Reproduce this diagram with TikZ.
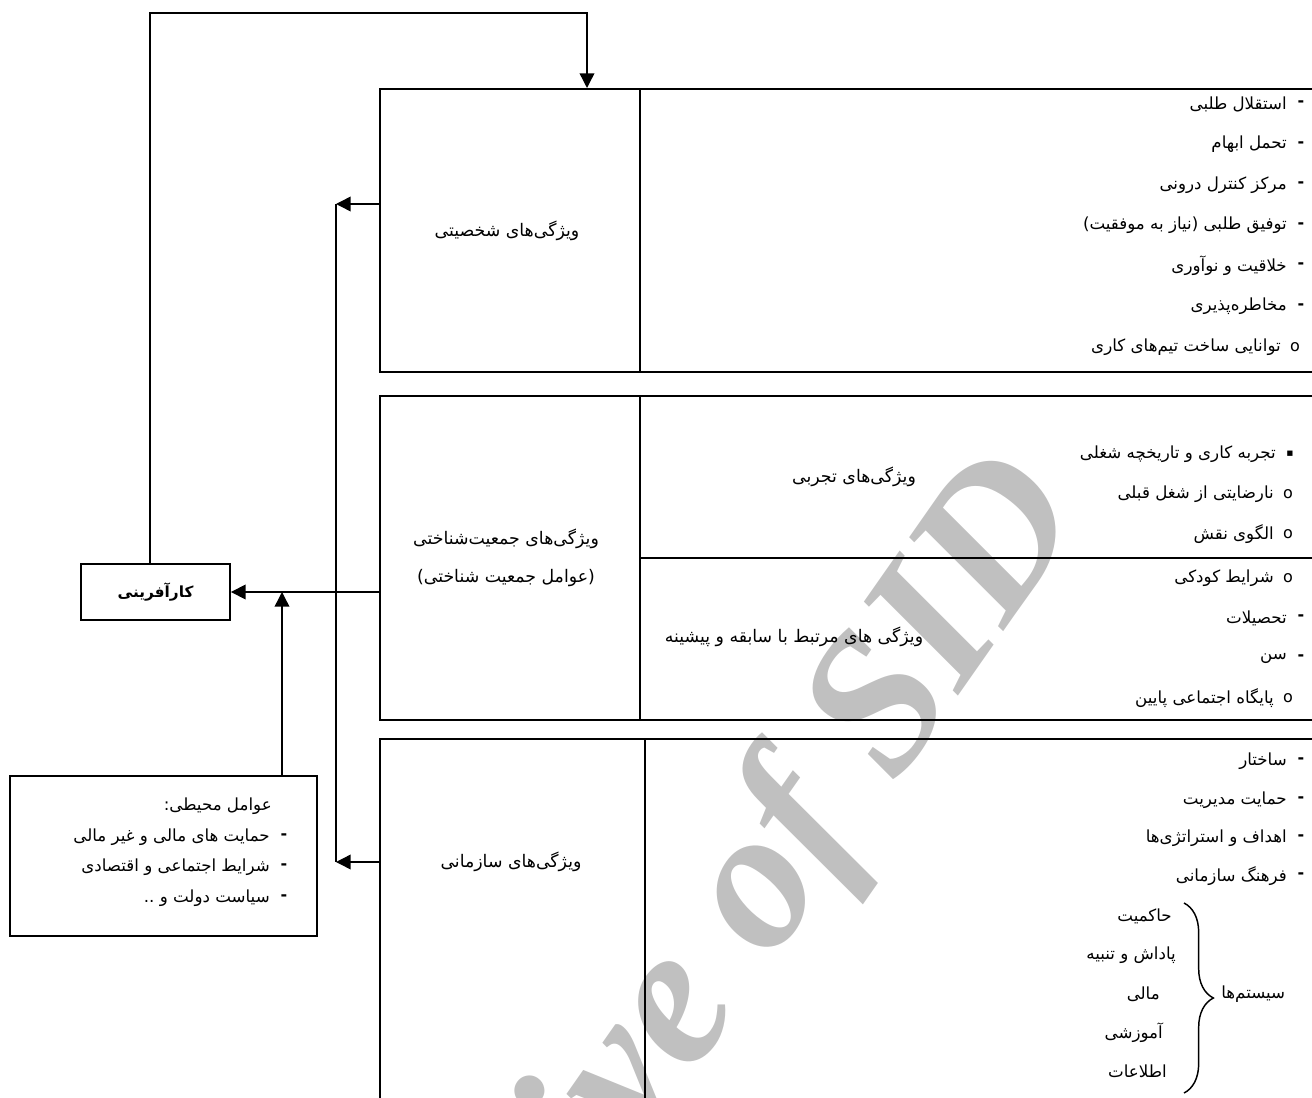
\documentclass[tikz,border=0pt]{standalone}
\usepackage{fontspec}
\usetikzlibrary{arrows.meta,decorations.pathreplacing}
\TeXXeTstate=1
\newfontfamily\fa[Script=Arabic]{DejaVu Sans}
\newfontfamily\wmfont{Liberation Serif}
\definecolor{wm}{RGB}{192,192,192}
\begin{document}
\begin{tikzpicture}[x=0.75pt,y=-0.75pt,
  box/.style={draw,line width=1.4pt,inner sep=0pt,anchor=north west},
  conn/.style={line width=1.1pt},
  arr/.style={conn,-{Triangle[length=11pt,width=11pt]}},
  txt/.style={font=\fa\fontsize{12.5}{15}\selectfont,inner sep=0pt},
  lbl/.style={font=\fa\fontsize{13}{15}\selectfont,inner sep=0pt},
  bul/.style={font=\fa\bfseries\fontsize{12}{14}\selectfont,inner sep=0pt},
  ob/.style={font=\fa\fontsize{12}{14}\selectfont,inner sep=0pt},
  sq/.style={font=\fa\fontsize{8}{9}\selectfont,inner sep=0pt}]
\useasboundingbox (0,0) rectangle (1312,1098);
\clip (0,0) rectangle (1312,1098);
\newcommand{\li}[6][bul]{\node[#1] (#2b) at (#4,#3) {#5};
  \node[txt,anchor=east] (#2) at (#4-14,#3) {#6};}
% watermark
\node[text=wm,font=\wmfont\bfseries\itshape\fontsize{150}{150}\selectfont,
  rotate=55,anchor=base east,inner sep=0pt] (wmk) at (1087,512) {Archive of SID};
% boxes
\node[box,minimum width=195pt,minimum height=212.25pt] (b1l) at (379,88) {};
\node[box,minimum width=525pt,minimum height=212.25pt] (b1r) at (639,88) {};
\node[box,minimum width=195pt,minimum height=243pt] (b2l) at (379,395) {};
\node[box,minimum width=525pt,minimum height=121.5pt] (b2rt) at (639,395) {};
\node[box,minimum width=525pt,minimum height=121.5pt] (b2rb) at (639,557) {};
\node[box,minimum width=198.75pt,minimum height=375pt] (b3l) at (379,738) {};
\node[box,minimum width=525pt,minimum height=375pt] (b3r) at (644,738) {};
\node[box,minimum width=230.25pt,minimum height=120pt] (env) at (9,775) {};
\node[draw,line width=1.4pt,minimum width=111.75pt,minimum height=42pt,
  font=\fa\bfseries\fontsize{11.5}{13}\selectfont] (ka) at (155.5,592) {\beginR کارآفرینی\endR};
% left cell labels
\node[lbl] (t1) at (507,231) {\beginR ویژگی‌های شخصیتی\endR};
\node[lbl,align=center,font=\fa\fontsize{13}{28}\selectfont] (t2) at (506,558)
  {\beginR ویژگی‌های جمعیت‌شناختی\endR\\\beginR (عوامل جمعیت شناختی)\endR};
\node[lbl] (t3) at (511,862) {\beginR ویژگی‌های سازمانی\endR};
% box 1 items
\li{a1}{104}{1301}{-}{\beginR استقلال طلبی\endR}
\li{a2}{144.5}{1301}{-}{\beginR تحمل ابهام\endR}
\li{a3}{185}{1301}{-}{\beginR مرکز کنترل درونی\endR}
\li{a4}{225.5}{1301}{-}{\beginR توفیق طلبی (نیاز به موفقیت)\endR}
\li{a5}{266}{1301}{-}{\beginR خلاقیت و نوآوری\endR}
\li{a6}{306.5}{1301}{-}{\beginR مخاطره‌پذیری\endR}
\li[ob]{a7}{347}{1295}{o}{\beginR توانایی ساخت تیم‌های کاری\endR}
% box 2 items
\node[lbl] (l21) at (854,477) {\beginR ویژگی‌های تجربی\endR};
\li[sq]{c1}{454}{1290}{▪}{\beginR تجربه کاری و تاریخچه شغلی\endR}
\li[ob]{c2}{494}{1288}{o}{\beginR نارضایتی از شغل قبلی\endR}
\li[ob]{c3}{534}{1288}{o}{\beginR الگوی نقش\endR}
\node[lbl] (l22) at (794,637) {\beginR ویژگی های مرتبط با سابقه و پیشینه\endR};
\li[ob]{d1}{578}{1288}{o}{\beginR شرایط کودکی\endR}
\li{d2}{618}{1301}{-}{\beginR تحصیلات\endR}
\li{d3}{658}{1301}{-}{\beginR سن\endR}
\li[ob]{d4}{698}{1288}{o}{\beginR پایگاه اجتماعی پایین\endR}
% box 3 items
\li{e1}{761}{1301}{-}{\beginR ساختار\endR}
\li{e2}{800}{1301}{-}{\beginR حمایت مدیریت\endR}
\li{e3}{838}{1301}{-}{\beginR اهداف و استراتژی‌ها\endR}
\li{e4}{876}{1301}{-}{\beginR فرهنگ سازمانی\endR}
\node[txt,anchor=east] (s1) at (1172,916) {\beginR حاکمیت\endR};
\node[txt,anchor=east] (s2) at (1176,955) {\beginR پاداش و تنبیه\endR};
\node[txt,anchor=east] (s3) at (1160,994) {\beginR مالی\endR};
\node[txt,anchor=east] (s4) at (1163,1033) {\beginR آموزشی\endR};
\node[txt,anchor=east] (s5) at (1167,1071) {\beginR اطلاعات\endR};
\node[txt,anchor=west] (sys) at (1221,994) {\beginR سیستم‌ها\endR};
\draw[conn,decorate,decoration={brace,amplitude=22pt}] (1184,903) -- (1184,1093);
% environment box text
\node[txt,anchor=east] (env0) at (272,806) {\beginR عوامل محیطی:\endR};
\li{f1}{837}{284}{-}{\beginR حمایت های مالی و غیر مالی\endR}
\li{f2}{867}{284}{-}{\beginR شرایط اجتماعی و اقتصادی\endR}
\li{f3}{898}{284}{-}{\beginR سیاست دولت و ..\endR}
% connectors
\coordinate (j1) at (336,204);
\coordinate (j3) at (336,862);
\coordinate (top) at (587,13);
\coordinate (e0) at (282,592);
\draw[arr] (b1l.west |- j1) -- (j1);
\draw[conn] (j1) -- (j3);
\draw[arr] (b3l.west |- j3) -- (j3);
\draw[arr] (b2l.west |- ka.east) -- (ka.east);
\draw[arr] ([xshift=-4.1pt]ka.north) |- (top) -- (top |- b1l.north);
\draw[arr] (env.north -| e0) -- (e0);
\end{tikzpicture}
\end{document}
